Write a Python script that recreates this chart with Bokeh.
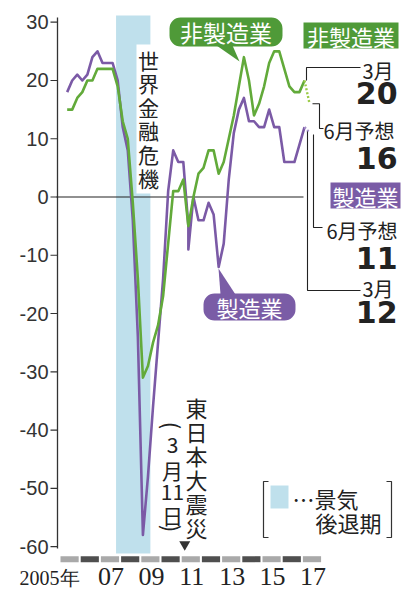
import math
from bokeh.plotting import figure
from bokeh.models import Range1d, BoxAnnotation
from bokeh.embed import file_html
from bokeh.resources import INLINE
from bokeh.core.properties import value

# ---------------- data ----------------
quarters = [
    "2005Q2", "2005Q3", "2005Q4",
    "2006Q1", "2006Q2", "2006Q3", "2006Q4",
    "2007Q1", "2007Q2", "2007Q3", "2007Q4",
    "2008Q1", "2008Q2", "2008Q3", "2008Q4",
    "2009Q1", "2009Q2", "2009Q3", "2009Q4",
    "2010Q1", "2010Q2", "2010Q3", "2010Q4",
    "2011Q1", "2011Q2", "2011Q2", "2011Q3", "2011Q4",
    "2012Q1", "2012Q2", "2012Q3", "2012Q4",
    "2013Q1", "2013Q2", "2013Q3", "2013Q4",
    "2014Q1", "2014Q2", "2014Q3", "2014Q4",
    "2015Q1", "2015Q2", "2015Q3", "2015Q4",
    "2016Q1", "2016Q2", "2016Q3", "2016Q4",
    "2017Q1",
]
mfg = [
    18, 20, 21,
    20, 21, 24, 25,
    23, 23, 23, 20,
    12, 8, -4, -24,
    -58, -48, -36, -25,
    -14, 1, 8, 6,
    6, -5, -9, 0, -4,
    -4, -1, -3, -12,
    -8, 3, 11, 15,
    17, 13, 13, 12,
    12, 15, 12, 12,
    6, 6, 6, 9,
    12,
]
nonmfg = [
    15, 15, 17,
    18, 20, 20, 22,
    22, 22, 22, 19,
    13, 10, -1, -14,
    -31, -29, -25, -22,
    -17, -8, 1, 1,
    3, -5, -5, 0, 4,
    5, 8, 8, 4,
    6, 10, 14, 19,
    24, 20, 14, 16,
    19, 23, 25, 25,
    22, 19, 18, 18,
    20,
]
forecast_quarter = "2017Q2"
mfg_forecast = 11
nonmfg_forecast = 16
recession = [2007.75, 2009.45]
quake_x = 2011.15
years = list(range(2005, 2018))
year_labels = ["07", "09", "11", "13", "15", "17"]
year_label_pos = [2007, 2009, 2011, 2013, 2015, 2017]
first_year_label = "2005年"
y_ticks = [-60, -50, -40, -30, -20, -10, 0, 10, 20, 30]
y_tick_labels = ["-60", "-50", "-40", "-30", "-20", "-10", "0", "10", "20", "30"]

GREEN = "#62aa3a"
GREEN_BOX = "#4f9a38"
PURPLE = "#7b5aa6"
PURPLE_BOX = "#7a5ca6"
SHADE = "#bfe0ec"
INK = "#222222"
JP = "Noto Sans CJK JP"


def qx(qs):
    return int(qs[:4]) + (int(qs[5]) - 1) / 4 + 0.08


# pixel -> data helpers for layout of annotations
def tx(px):
    return 2005 + (px - 60) / 20.2


def vy(py):
    return (196.5 - py) / 5.826


xs = [qx(q) for q in quarters]
xf = qx(forecast_quarter)

p = figure(width=404, height=590,
           x_range=Range1d(tx(0), tx(404)), y_range=Range1d(vy(590), vy(0)),
           output_backend="svg", toolbar_location=None, x_axis_type=None, y_axis_type=None,
           min_border_left=0, min_border_right=0, min_border_top=0, min_border_bottom=0)
p.grid.visible = False
p.outline_line_color = None
p.background_fill_color = "white"

# recession shade
p.quad(left=[recession[0]], right=[recession[1]], bottom=[vy(553)], top=[vy(15)],
       fill_color=SHADE, line_color=None)
# white backing for vertical label
p.quad(left=[tx(136)], right=[tx(161)], bottom=[vy(193)], top=[vy(44)],
       fill_color="white", line_color=None)

# year band
p.quad(left=years, right=[y + 0.9 for y in years], bottom=vy(561.7), top=vy(555.7),
       fill_color=["#a9a9a9" if y % 2 else "#4f4f4f" for y in years], line_color=None)

# y axis: line, ticks, labels
p.segment(x0=[tx(57)], y0=[vy(17)], x1=[tx(57)], y1=[vy(548)], line_color="#333333", line_width=1.3)
p.segment(x0=tx(50), y0=y_ticks, x1=tx(57), y1=y_ticks, line_color="#333333", line_width=1.2)
p.text(x=tx(48), y=y_ticks, text=y_tick_labels, text_font=value("Liberation Sans"),
       text_font_size="20px", text_color="#333333", text_align="right", text_baseline="middle")
# zero line
p.segment(x0=[tx(56)], y0=[0], x1=[tx(303)], y1=[0], line_color=INK, line_width=1.2)

# series
p.line(xs, mfg, line_color=PURPLE, line_width=2.6, line_join="round")
p.line(xs, nonmfg, line_color=GREEN, line_width=2.6, line_join="round")
p.line([xs[-1], xf], [mfg[-1], mfg_forecast], line_color="#a58fc8", line_width=2.4, line_dash="2 2")
p.line([xs[-1], xf], [nonmfg[-1], nonmfg_forecast], line_color="#9ccc48", line_width=2.4, line_dash="2 2")

# leader lines
p.multi_line(
    xs=[[tx(306), tx(306), tx(360)],
        [tx(312), tx(319), tx(319), tx(323)],
        [tx(313), tx(313), tx(322)],
        [tx(307), tx(307), tx(360)]],
    ys=[[nonmfg[-1], vy(67), vy(67)],
        [nonmfg_forecast, nonmfg_forecast, vy(128), vy(128)],
        [vy(134), vy(227), vy(227)],
        [vy(131), vy(290), vy(290)]],
    line_color=INK, line_width=1.1)


def txt(x, y, s, size, font=JP, color=INK, align="left", baseline="middle", style="normal", angle=0.0):
    p.text(x=[x], y=[y], text=[s], text_font=value(font), text_font_size=f"{size}px",
           text_color=color, text_align=align, text_baseline=baseline,
           text_font_style=style, angle=angle)


# right-side labels
p.add_layout(BoxAnnotation(left=tx(303), right=tx(398), top=vy(22), bottom=vy(48),
                           fill_color=GREEN_BOX, fill_alpha=1, line_color=None, level="underlay"))
txt(tx(350.5), vy(35), "非製造業", 22, color="white", align="center")
txt(tx(362), vy(70), "3月", 20)
txt(tx(397), vy(92), "20", 30, font="DejaVu Sans", align="right", style="bold")
txt(tx(323), vy(130), "6月予想", 20)
txt(tx(397), vy(157), "16", 30, font="DejaVu Sans", align="right", style="bold")
p.add_layout(BoxAnnotation(left=tx(330), right=tx(400), top=vy(182), bottom=vy(208),
                           fill_color=PURPLE_BOX, fill_alpha=1, line_color=None, level="underlay"))
txt(tx(365), vy(195), "製造業", 22, color="white", align="center")
txt(tx(326), vy(230), "6月予想", 20)
txt(tx(397), vy(257), "11", 30, font="DejaVu Sans", align="right", style="bold")
txt(tx(362), vy(288), "3月", 20)
txt(tx(397), vy(311), "12", 30, font="DejaVu Sans", align="right", style="bold")

# callouts
p.add_layout(BoxAnnotation(left=tx(169), right=tx(282), top=vy(17), bottom=vy(46),
                           fill_color=GREEN_BOX, fill_alpha=1, line_color=None,
                           border_radius=11, level="underlay"))
p.patch([tx(216), tx(232), tx(239)], [vy(45), vy(45), vy(61)], fill_color=GREEN_BOX, line_color=None)
txt(tx(225.5), vy(31.5), "非製造業", 23, color="white", align="center")

p.add_layout(BoxAnnotation(left=tx(203), right=tx(295), top=vy(293), bottom=vy(320),
                           fill_color=PURPLE_BOX, fill_alpha=1, line_color=None,
                           border_radius=11, level="underlay"))
p.patch([tx(220), tx(235), tx(218)], [vy(294), vy(294), vy(268)], fill_color=PURPLE_BOX, line_color=None)
txt(tx(249), vy(306.5), "製造業", 22, color="white", align="center")

# vertical texts
for i, ch in enumerate("世界金融危機"):
    txt(tx(148), vy(59 + i * 23.6), ch, 21, align="center")
for i, ch in enumerate("東日本大震災"):
    txt(tx(196), vy(406 + i * 24), ch, 22, align="center")
txt(tx(172), vy(425), "(", 22, align="center", angle=-math.pi / 2)
txt(tx(172), vy(444), "3", 21, align="center")
txt(tx(172), vy(469), "月", 21, align="center")
txt(tx(172), vy(491), "11", 21, align="center")
txt(tx(172), vy(514), "日", 21, align="center")
txt(tx(172), vy(528), ")", 22, align="center", angle=-math.pi / 2)
p.scatter([quake_x], [vy(544)], marker="inverted_triangle", size=11, fill_color="#333333", line_color=None)

# legend
p.quad(left=[tx(270)], right=[tx(288)], bottom=[vy(508)], top=[vy(485)], fill_color=SHADE, line_color=None)
p.multi_line(xs=[[tx(268), tx(263), tx(263), tx(268)], [tx(386), tx(391), tx(391), tx(386)]],
             ys=[[vy(481), vy(481), vy(537), vy(537)], [vy(481), vy(481), vy(537), vy(537)]],
             line_color="#333333", line_width=1.2)
txt(tx(292), vy(497), "…景気", 22)
txt(tx(315), vy(521), "後退期", 22)

# x labels
p.text(x=[y + 0.5 for y in year_label_pos], y=[vy(576)] * len(year_labels), text=year_labels,
       text_font=value("Liberation Serif"), text_font_size="26px", text_color=INK,
       text_align="center", text_baseline="middle")
txt(tx(79), vy(577), first_year_label, 20, font="Liberation Serif", align="right")

open("out.html", "w").write(file_html(p, INLINE))
